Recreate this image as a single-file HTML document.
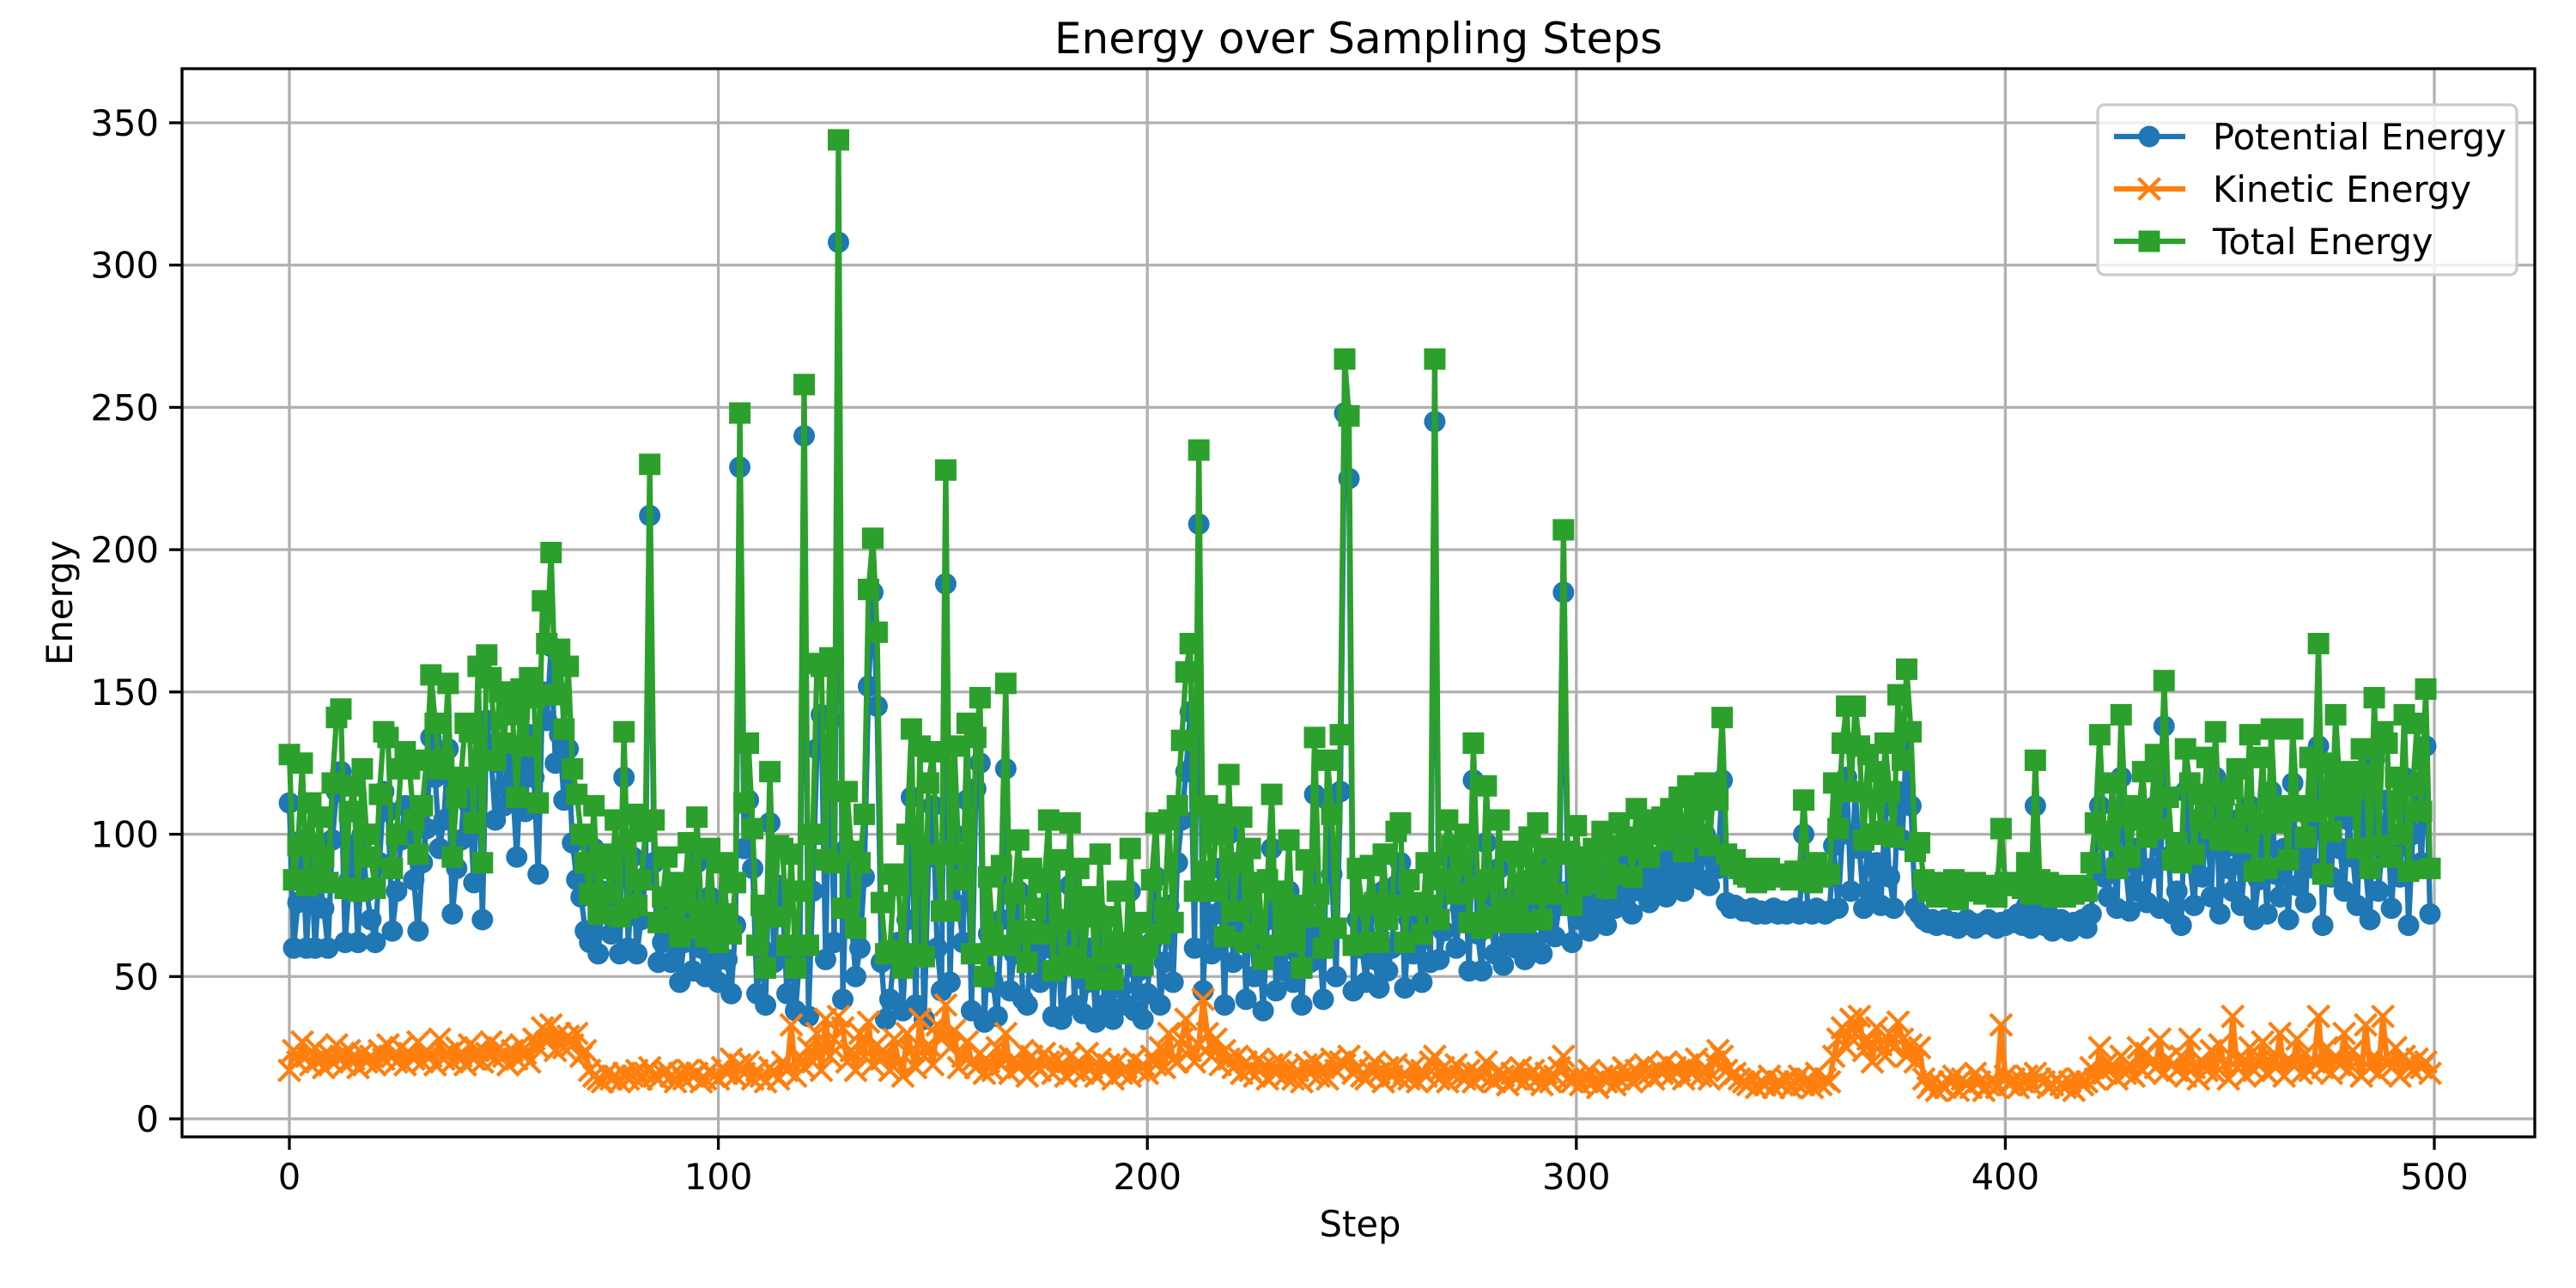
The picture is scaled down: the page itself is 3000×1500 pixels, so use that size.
<!DOCTYPE html>
<html><head><meta charset="utf-8"><style>
body{margin:0;background:#fff}
svg{display:block;font-family:"DejaVu Sans","Liberation Sans",sans-serif}
</style></head><body>
<svg id="chart" width="3000" height="1500" viewBox="0 0 3000 1500" xmlns="http://www.w3.org/2000/svg">
<rect width="3000" height="1500" fill="#fff"/>
<g id="grid"></g>
<g id="series"></g>
<rect x="212" y="80" width="2740" height="1244" fill="none" stroke="#000" stroke-width="3.3"/>
<g id="ticks"></g>
<text x="1582" y="78" text-anchor="middle" font-size="50" dy="-16">Energy over Sampling Steps</text>
<text x="1584" y="1440" text-anchor="middle" font-size="41.7">Step</text>
<text x="0" y="0" transform="translate(84,702) rotate(-90)" text-anchor="middle" font-size="41.7">Energy</text>
<g>
<rect x="2443" y="122" width="488" height="198" rx="8" fill="#fff" fill-opacity="0.8" stroke="#ccc" stroke-width="3.3"/>
<g>
<line x1="2462" y1="159" x2="2545" y2="159" stroke="#1f77b4" stroke-width="6.25"/>
<circle cx="2503" cy="159" r="12.5" fill="#1f77b4"/>
<text x="2577" y="174" font-size="41.7">Potential Energy</text></g>
<g>
<line x1="2462" y1="220" x2="2545" y2="220" stroke="#ff7f0e" stroke-width="6.25"/>
<path d="M2490.5 207.5L2515.5 232.5M2490.5 232.5L2515.5 207.5" stroke="#ff7f0e" stroke-width="4.2"/>
<text x="2577" y="235" font-size="41.7">Kinetic Energy</text></g>
<g>
<line x1="2462" y1="281" x2="2545" y2="281" stroke="#2ca02c" stroke-width="6.25"/>
<rect x="2490.5" y="268.5" width="25" height="25" fill="#2ca02c"/>
<text x="2577" y="296" font-size="41.7">Total Energy</text></g>
</g>
</svg>
<script>
const xTicks = [0,100,200,300,400,500];
const yTicks = [0,50,100,150,200,250,300,350];
const potential = [
111,60,76,98,60,92,60,85,74,60,98,115,122,62,84,96,62,100,80,70,
62,90,115,108,66,80,98,110,100,84,66,90,102,134,120,95,105,130,72,88,
98,120,110,83,135,70,140,128,105,125,110,130,118,92,125,108,135,120,86,150,
140,166,125,135,112,130,97,84,78,66,62,95,58,80,72,65,90,58,120,60,
92,58,70,85,212,90,55,62,75,55,70,48,62,80,52,90,60,50,78,55,
48,72,56,44,68,229,95,112,88,44,60,40,104,55,82,75,44,60,38,58,
240,36,80,130,142,56,140,62,308,42,95,70,50,60,85,152,185,145,55,35,
42,58,62,38,70,113,40,96,35,92,110,60,45,188,48,100,75,62,112,38,
116,125,34,65,48,36,70,123,45,58,80,42,40,66,55,48,60,85,36,70,
35,55,82,40,68,37,48,60,34,72,40,52,35,60,46,40,80,38,52,35,
44,62,85,40,55,75,48,90,105,122,143,60,209,45,80,58,72,88,40,100,
55,68,90,42,78,50,62,38,70,95,45,60,52,80,48,58,40,72,55,114,
64,42,112,86,50,115,248,225,45,70,60,48,72,56,46,80,52,60,82,90,
46,70,58,62,48,75,55,245,56,66,92,80,60,74,86,52,119,65,52,97,
70,58,88,54,62,78,60,74,56,84,62,90,58,70,82,64,75,185,80,62,
88,70,78,66,82,72,86,68,80,74,90,78,84,72,92,80,86,76,88,82,
90,78,94,84,96,80,98,86,92,84,100,82,96,88,119,76,74,75,74,73,
73,74,72,73,72,73,74,72,73,72,73,74,72,100,73,72,74,73,72,73,
96,74,100,120,80,115,95,74,100,80,90,75,110,85,74,115,98,136,110,74,
72,70,69,70,68,69,70,68,69,67,68,70,69,67,68,69,70,68,67,69,
68,70,69,72,68,75,67,110,70,68,72,66,68,70,67,66,69,68,70,67,
72,90,110,85,78,100,74,120,90,73,95,80,105,76,88,110,74,138,92,72,
80,68,115,90,75,100,85,110,78,120,72,95,88,80,105,75,92,110,70,84,
100,72,115,86,78,95,70,118,82,92,76,110,88,131,68,100,85,120,95,80,
105,92,75,115,88,70,126,80,100,112,74,95,85,120,68,100,118,90,131,72];
const kinetic = [
17,24,20,27,22,19,25,21,18,23,20,26,22,19,24,21,18,23,20,22,
19,24,21,26,22,20,25,19,23,21,27,20,24,22,19,28,21,23,20,25,
22,19,26,21,24,20,23,27,21,25,22,19,24,21,26,23,20,28,25,32,
27,33,24,30,25,29,26,30,22,24,17,15,14,13,16,14,15,13,16,14,
15,17,14,16,18,15,14,16,17,15,13,16,14,17,15,16,13,14,17,15,
14,18,16,21,15,19,16,20,14,17,15,13,18,16,14,20,17,33,15,22,
18,25,20,30,17,35,22,28,36,32,20,24,17,30,22,34,19,26,21,23,
17,28,20,15,30,24,18,35,22,26,19,33,28,40,25,31,18,22,27,20,
18,23,16,20,17,25,19,30,16,21,18,24,15,22,19,17,23,20,16,21,
19,15,22,17,20,16,23,18,15,21,17,19,14,20,16,18,15,21,17,19,
16,22,19,25,18,30,21,20,28,35,24,20,26,42,30,22,28,19,24,21,
18,22,16,20,17,15,21,18,14,19,16,20,15,18,14,17,13,19,16,20,
15,18,14,21,17,20,19,22,16,18,15,14,17,20,16,13,18,15,19,14,
16,14,18,13,17,15,20,22,14,18,13,16,19,15,14,17,13,16,15,20,
14,13,17,15,12,16,14,18,13,15,17,14,12,16,13,15,18,22,14,13,
15,12,14,17,13,11,15,13,16,12,14,18,15,13,17,15,19,16,14,18,
16,20,15,18,17,14,19,16,21,15,18,14,20,24,22,17,15,16,14,13,
12,14,11,13,12,15,11,13,12,14,11,13,15,12,14,11,16,12,14,13,
22,28,32,25,35,30,36,24,28,20,32,26,22,30,25,34,28,22,26,20,
25,14,11,13,10,12,11,13,15,10,14,12,11,16,13,10,12,14,11,33,
15,12,14,11,13,15,12,16,14,13,11,12,14,12,11,13,10,14,12,13,
18,14,25,16,20,18,14,22,16,19,15,25,17,23,20,18,28,16,21,19,
17,22,15,28,18,14,20,17,24,16,26,19,14,36,18,22,15,25,17,20,
27,16,22,18,30,15,21,19,28,16,23,17,20,36,18,25,16,22,19,30,
17,24,20,15,33,18,22,16,36,20,18,25,15,22,19,17,21,18,20,16];
const total = potential.map((p, i) => p + kinetic[i]);

const NS = 'http://www.w3.org/2000/svg';
function xs(v){ return 337 + v * (2835 - 337) / 500; }
function ys(v){ return 1303 - v * (1303 - 143) / 350; }
function mk(tag, attrs, parent){
  const e = document.createElementNS(NS, tag);
  for (const k in attrs) e.setAttribute(k, attrs[k]);
  parent.appendChild(e);
  return e;
}
const grid = document.getElementById('grid');
const ticks = document.getElementById('ticks');
const series = document.getElementById('series');
xTicks.forEach(t => {
  const g = mk('line', {x1: xs(t), x2: xs(t), y1: 80, y2: 1324, stroke: '#b0b0b0', 'stroke-width': 3.3}, grid);
  
  
  mk('line', {x1: xs(t), x2: xs(t), y1: 1324, y2: 1339, stroke: '#000', 'stroke-width': 3.3}, ticks);
  const tx = mk('text', {x: xs(t), y: 1385, 'text-anchor': 'middle', 'font-size': 41.7}, ticks);
  tx.textContent = t;
  
  
});
yTicks.forEach(t => {
  const g = mk('line', {x1: 212, x2: 2952, y1: ys(t), y2: ys(t), stroke: '#b0b0b0', 'stroke-width': 3.3}, grid);
  
  
  mk('line', {x1: 197, x2: 212, y1: ys(t), y2: ys(t), stroke: '#000', 'stroke-width': 3.3}, ticks);
  const tx = mk('text', {x: 185, y: ys(t) + 15, 'text-anchor': 'end', 'font-size': 41.7}, ticks);
  tx.textContent = t;
  
  
});
function drawSeries(vals, color, marker, name){
  const g = mk('g', {}, series);
  
  
  const pts = vals.map((v, i) => xs(i).toFixed(1) + ',' + ys(v).toFixed(1)).join(' ');
  const pl = mk('polyline', {points: pts, fill: 'none', stroke: color, 'stroke-width': 6.25, 'stroke-linejoin': 'round'}, g);
  
  
  let d = '';
  vals.forEach((v, i) => {
    const x = xs(i), y = ys(v);
    if (marker === 'o') d += `M${x-12.5},${y}a12.5,12.5 0 1,0 25,0a12.5,12.5 0 1,0 -25,0`;
    else if (marker === 's') d += `M${x-12.5},${y-12.5}h25v25h-25z`;
    else d += `M${x-12.5},${y-12.5}L${x+12.5},${y+12.5}M${x-12.5},${y+12.5}L${x+12.5},${y-12.5}`;
  });
  const m = mk('path', marker === 'x' ? {d: d, stroke: color, 'stroke-width': 4.2, fill: 'none'} : {d: d, fill: color}, g);
  
  
}
drawSeries(potential, '#1f77b4', 'o', 'potential-energy-series');
drawSeries(kinetic, '#ff7f0e', 'x', 'kinetic-energy-series');
drawSeries(total, '#2ca02c', 's', 'total-energy-series');
</script>
</body></html>
